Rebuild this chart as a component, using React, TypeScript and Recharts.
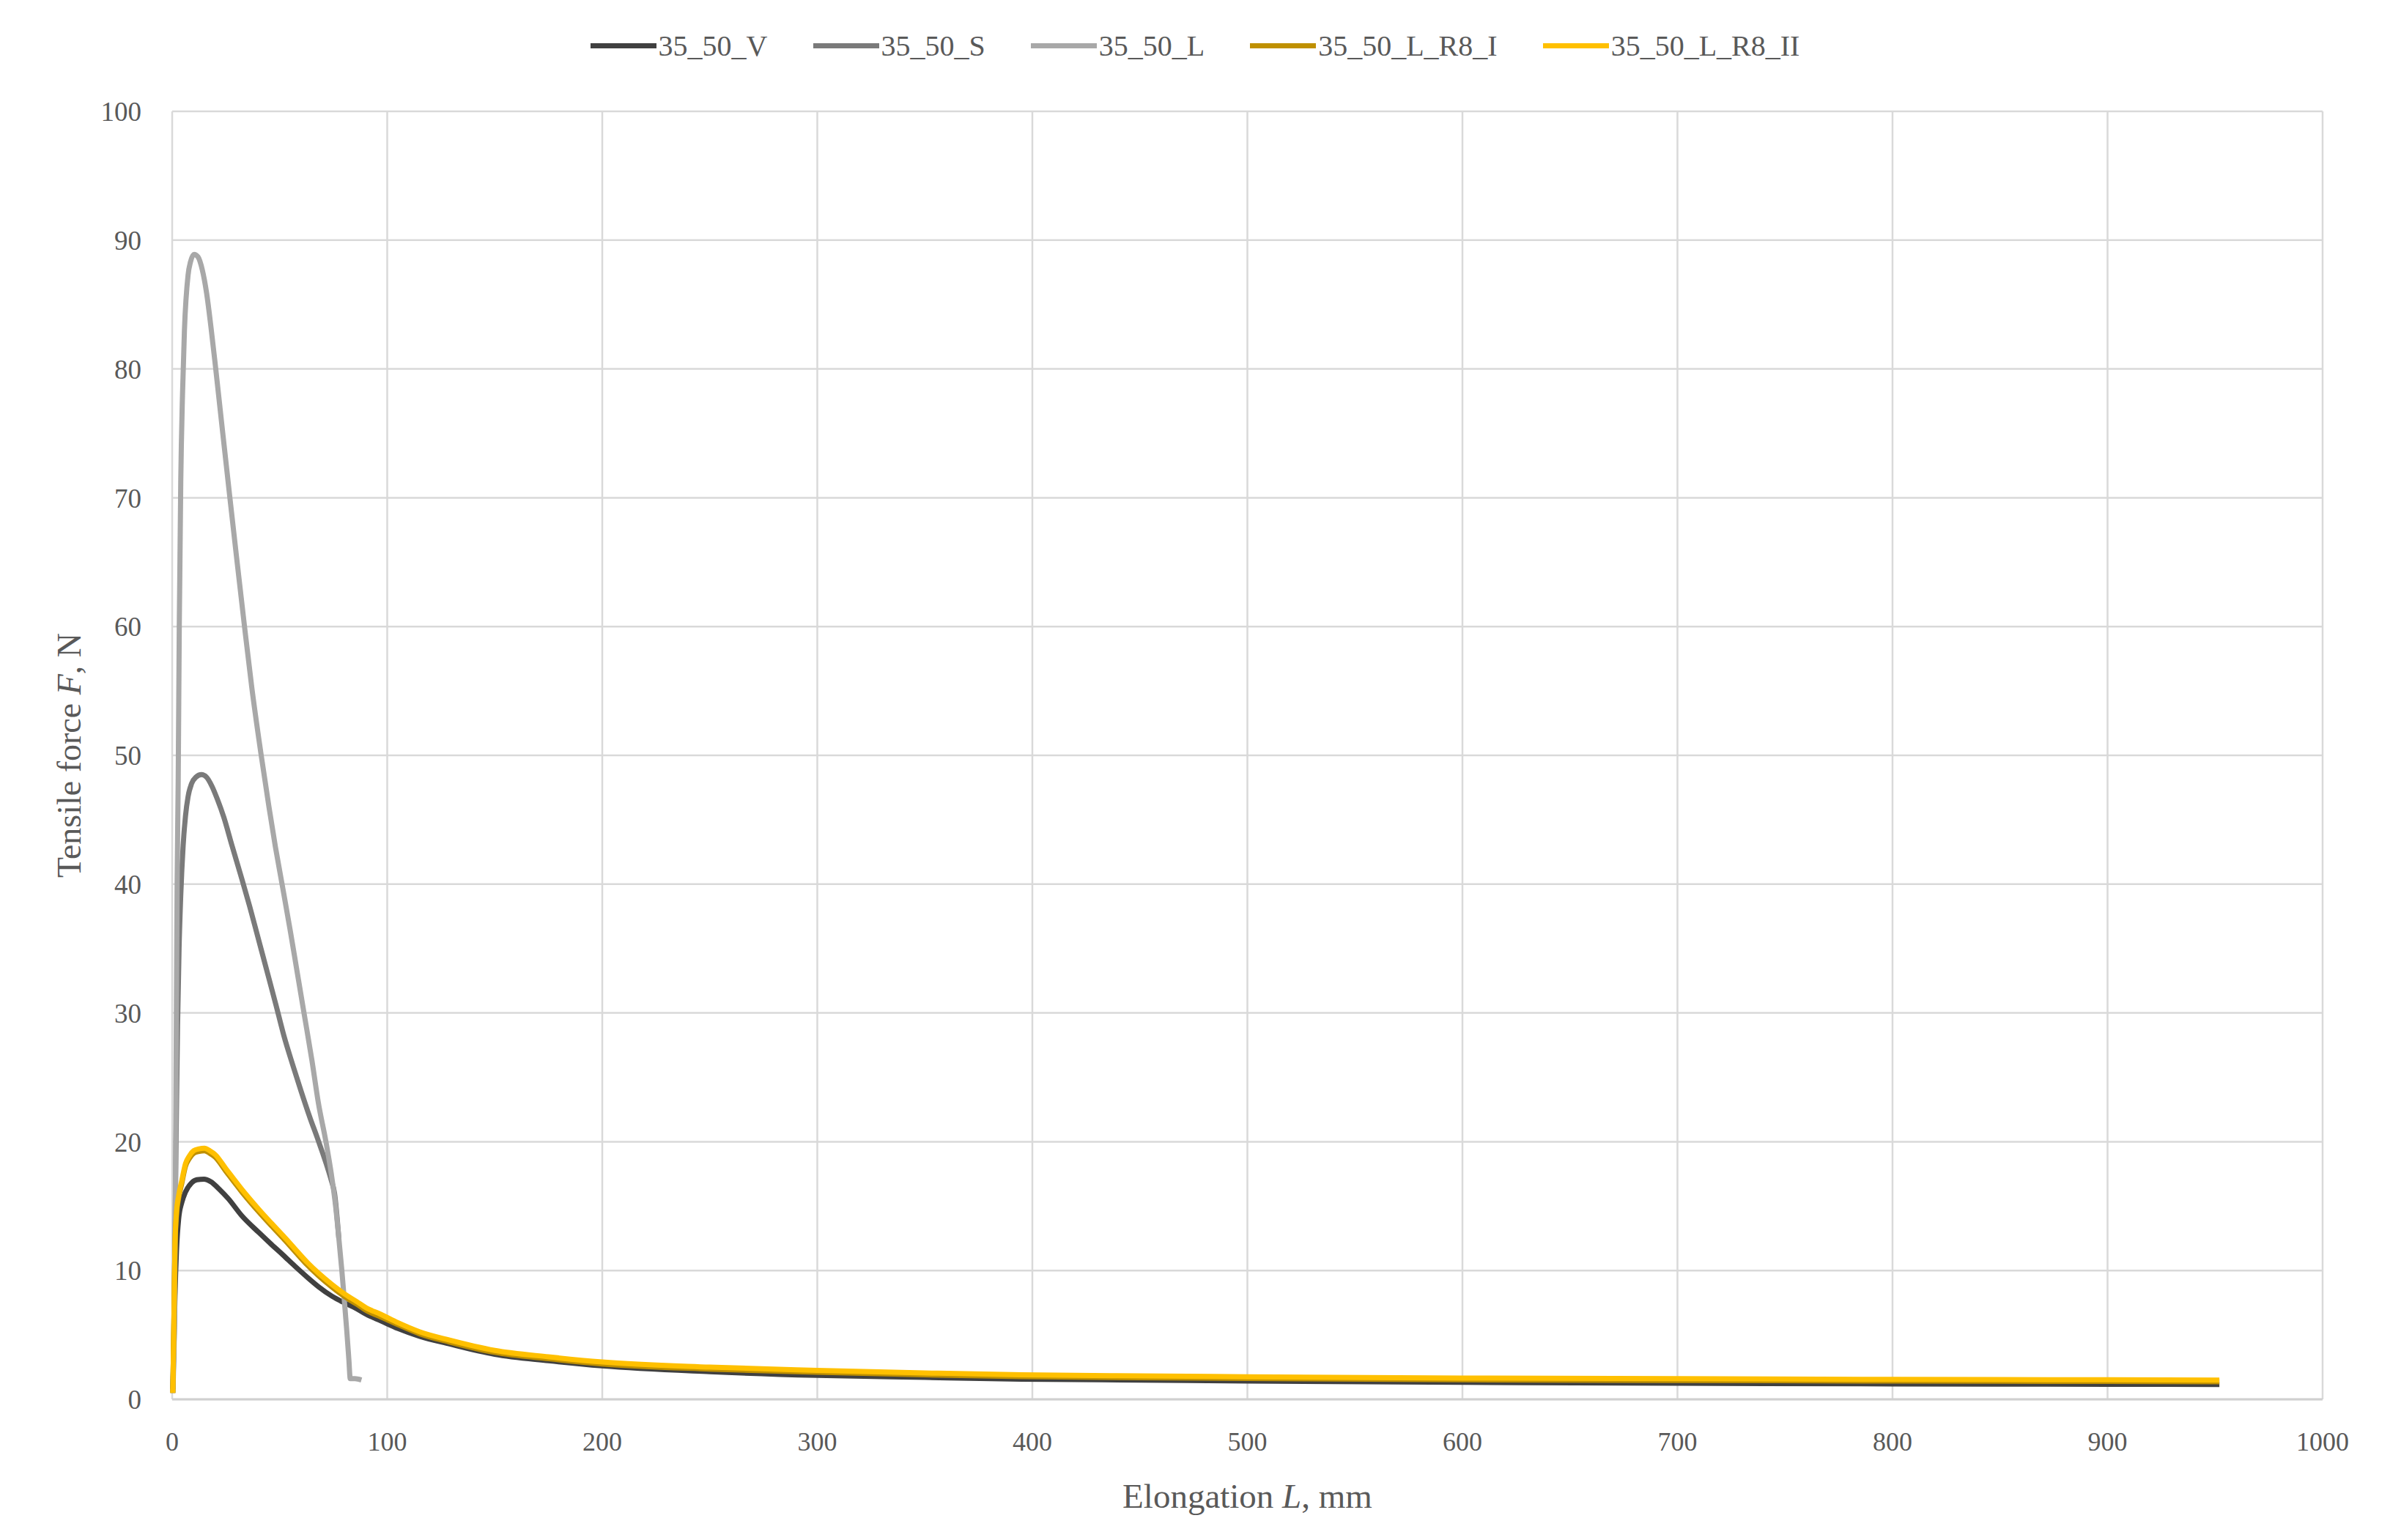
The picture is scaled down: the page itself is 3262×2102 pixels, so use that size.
import React from "react";
import { LineChart, Line, XAxis, YAxis, CartesianGrid, Legend, Label } from "recharts";

// ---- Data (Elongation L in mm, Tensile force F in N) ----
const vX = [0.3, 0.8, 1.3, 2, 3, 4.5, 6.2, 9, 11.5, 14.8, 18, 22, 26, 32.4, 40.3, 46, 51.6, 57, 63, 68, 74.4, 80, 85.7, 90.3, 97, 105, 115, 129, 150, 175, 200, 250, 300, 350, 395, 450, 500, 600, 700, 800, 900, 952];
const vY = [0.8, 4, 8, 11.5, 14, 15.3, 16.1, 16.8, 17.05, 17.1, 16.9, 16.3, 15.6, 14.25, 12.95, 12.05, 11.2, 10.35, 9.45, 8.75, 8.0, 7.5, 7.05, 6.6, 6.1, 5.5, 4.9, 4.3, 3.5, 3.0, 2.6, 2.15, 1.86, 1.7, 1.57, 1.5, 1.42, 1.32, 1.25, 1.2, 1.17, 1.15];

const sX = [0.3, 1, 1.8, 2.5, 3.2, 4, 5.1, 6.2, 7.4, 9, 11, 13.6, 16, 18.5, 21, 24, 27.8, 32.4, 36, 40, 44, 48.3, 52, 56, 60, 64, 67.5, 70, 72, 74, 75.5, 77.5];
const sY = [0.5, 8, 20, 29, 35, 39.2, 43, 45.3, 46.8, 47.8, 48.3, 48.5, 48.3, 47.6, 46.6, 45.2, 43, 40.4, 38.3, 35.8, 33.3, 30.6, 28.2, 26, 23.9, 21.9, 20.3, 19.1, 18.1, 17, 16, 12.5];

const lX = [0.3, 1.2, 1.8, 2.3, 2.8, 3.3, 4, 4.8, 5.7, 7.4, 8.5, 10.2, 12, 14, 16, 18, 20, 23, 26.7, 30, 33.5, 37, 41.4, 45, 48, 51.1, 55, 58, 61.3, 65, 68, 71.5, 74, 76, 77.5, 78.9, 80, 81.2, 82.2, 82.8, 85, 88];
const lY = [0.5, 8, 25, 40, 48, 60, 71.4, 78, 83, 87.3, 88.3, 88.9, 88.7, 87.7, 85.9, 83.3, 80.4, 75.8, 70.2, 65.3, 60.2, 55.3, 50, 46, 42.9, 40, 36.3, 33.3, 30, 26.3, 23, 20, 17.5, 15, 12.5, 10, 7.8, 5.3, 3, 1.6, 1.6, 1.5];

const r1X = [0.3, 0.8, 1.3, 2, 3, 4.5, 6.2, 8, 10, 12.5, 15, 17.5, 20, 25, 32.4, 40.3, 46, 51.6, 57, 63, 68, 74.4, 80, 85.7, 90.3, 97, 105, 115, 129, 150, 175, 200, 250, 300, 350, 395, 450, 500, 600, 700, 800, 900, 952];
const r1Y = [0.5, 6, 11.8, 14.3, 15.6, 16.8, 18.1, 18.7, 19.1, 19.25, 19.3, 19.1, 18.8, 17.7, 16.1, 14.55, 13.5, 12.5, 11.5, 10.4, 9.6, 8.7, 8.0, 7.4, 6.9, 6.4, 5.8, 5.1, 4.45, 3.65, 3.15, 2.75, 2.35, 2.1, 1.9, 1.77, 1.68, 1.62, 1.52, 1.47, 1.42, 1.39, 1.37];

const r2X = [0.3, 0.8, 1.3, 2, 3, 4.5, 6.2, 8, 10, 12.5, 15, 17.5, 20, 25, 32.4, 40.3, 46, 51.6, 57, 63, 68, 74.4, 80, 85.7, 90.3, 97, 105, 115, 129, 150, 175, 200, 250, 300, 350, 395, 450, 500, 600, 700, 800, 900, 952];
const r2Y = [0.5, 6, 12, 14.5, 15.8, 17, 18.3, 18.9, 19.3, 19.45, 19.5, 19.3, 19.0, 17.9, 16.3, 14.75, 13.7, 12.7, 11.7, 10.6, 9.8, 8.9, 8.2, 7.6, 7.1, 6.6, 5.95, 5.25, 4.6, 3.8, 3.3, 2.9, 2.5, 2.25, 2.05, 1.9, 1.82, 1.75, 1.65, 1.6, 1.55, 1.52, 1.5];

const seriesNames = ["35_50_V", "35_50_S", "35_50_L", "35_50_L_R8_I", "35_50_L_R8_II"];
const seriesColors = ["#404040", "#7a7a7a", "#a8a8a8", "#bf9000", "#ffc000"];

const xTicks = [0, 100, 200, 300, 400, 500, 600, 700, 800, 900, 1000];
const yTicks = [0, 10, 20, 30, 40, 50, 60, 70, 80, 90, 100];

const toPoints = (xs: number[], ys: number[]) => xs.map((x, i) => ({ x, y: ys[i] }));
const seriesData = [toPoints(vX, vY), toPoints(sX, sY), toPoints(lX, lY), toPoints(r1X, r1Y), toPoints(r2X, r2Y)];

const FONT = "'Liberation Serif', 'Times New Roman', serif";
const TEXT = "#595959";
const W = 3246;
const H = 2086;

const LegendContent = () => (
  <div style={{ display: "flex", justifyContent: "center", alignItems: "center", height: 44, fontFamily: FONT, fontSize: 40, color: TEXT }}>
    {seriesNames.map((n, i) => (
      <div key={n} style={{ display: "flex", alignItems: "center", marginLeft: i === 0 ? 0 : 62 }}>
        <div style={{ width: 90, height: 7, background: seriesColors[i], marginRight: 3 }} />
        <span>{n}</span>
      </div>
    ))}
  </div>
);

const XTitle = (props: any) => {
  const vb = props.viewBox || {};
  const cx = vb.x + vb.width / 2;
  return (
    <text x={cx} y={vb.y + 148} textAnchor="middle" fontFamily={FONT} fontSize={47} fill={TEXT}>
      <tspan>Elongation </tspan>
      <tspan fontStyle="italic">L</tspan>
      <tspan>, mm</tspan>
    </text>
  );
};

const YTitle = (props: any) => {
  const vb = props.viewBox || {};
  const cy = vb.y + vb.height / 2;
  const cx = 86;
  return (
    <text x={cx} y={cy} textAnchor="middle" dominantBaseline="central" transform={`rotate(-90 ${cx} ${cy})`} fontFamily={FONT} fontSize={46} fill={TEXT}>
      <tspan>Tensile force </tspan>
      <tspan fontStyle="italic">F</tspan>
      <tspan>, N</tspan>
    </text>
  );
};

export default function App() {
  return (
    <div style={{ width: W, height: H, background: "#fff" }}>
      <LineChart width={W} height={H} margin={{ top: 144, right: 84, bottom: 0, left: 0 }}>
        <CartesianGrid stroke="#d9d9d9" strokeWidth={2.5} horizontalValues={yTicks} verticalValues={xTicks} />
        <XAxis
          type="number"
          dataKey="x"
          domain={[0, 1000]}
          ticks={xTicks}
          height={184}
          tickSize={0}
          tickMargin={44}
          tickLine={false}
          axisLine={{ stroke: "#d0d0d0", strokeWidth: 3 }}
          tick={{ fontFamily: FONT, fontSize: 36, fill: TEXT }}
          allowDuplicatedCategory={false}
        >
          <Label content={XTitle} />
        </XAxis>
        <YAxis
          type="number"
          domain={[0, 100]}
          ticks={yTicks}
          width={227}
          tickSize={0}
          tickMargin={42}
          tickLine={false}
          axisLine={false}
          tick={{ fontFamily: FONT, fontSize: 37, fill: TEXT }}
        >
          <Label content={YTitle} />
        </YAxis>
        <Legend
          layout="horizontal"
          verticalAlign="middle"
          align="center"
          content={LegendContent}
          wrapperStyle={{ position: "absolute", top: 32, left: 0, width: W, height: 44 }}
        />
        {seriesNames.map((n, i) => (
          <Line
            key={n}
            name={n}
            data={seriesData[i]}
            dataKey="y"
            type="monotone"
            stroke={seriesColors[i]}
            strokeWidth={7}
            dot={false}
            activeDot={false}
            isAnimationActive={false}
          />
        ))}
      </LineChart>
    </div>
  );
}
